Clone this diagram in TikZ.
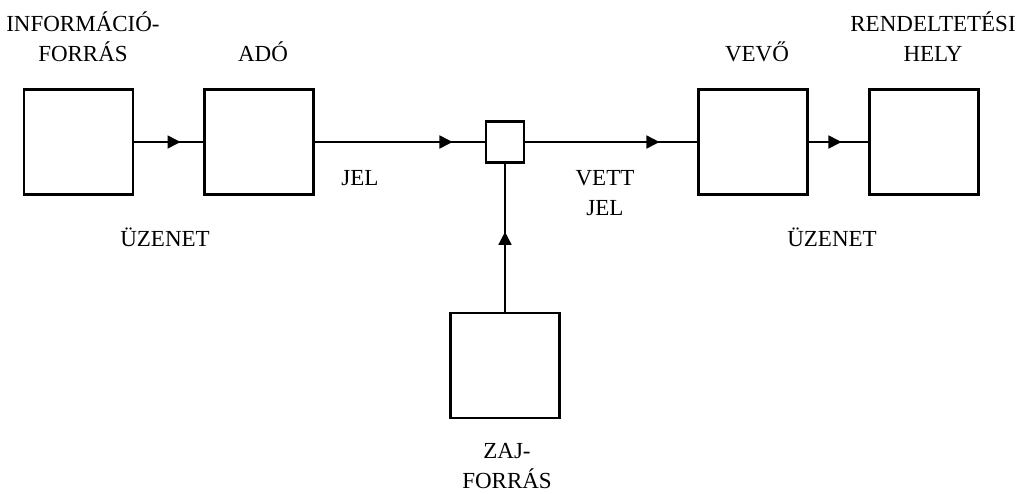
\documentclass[tikz,border=0pt]{standalone}
\usepackage{fontspec}
\setmainfont{Liberation Serif}
\usetikzlibrary{arrows.meta,decorations.markings}

\begin{document}
\begin{tikzpicture}[x=0.5pt,y=-0.5pt,
	box/.style={draw,line width=1.2pt,inner sep=0pt,minimum width=54.5pt,minimum height=52.5pt},
	smallbox/.style={draw,line width=1.2pt,inner sep=0pt,minimum width=19pt,minimum height=20.5pt},
	lbl/.style={align=center,inner sep=0pt,font=\fontsize{11.5}{15}\selectfont},
	tipat/.style={line width=.8pt,decoration={markings,
		mark=at position #1 with {\arrow{Triangle[length=6.5pt,width=6.5pt]}}},postaction={decorate}}]
\useasboundingbox (0,0) rectangle (1020,493);

% boxes
\node[box] (forras) at (78.5,142) {};
\node[box] (ado) at (259,142) {};
\node[smallbox] (csat) at (505,142) {};
\node[box] (vevo) at (753,142) {};
\node[box] (hely) at (924,142) {};
\node[box] (zaj) at (505,365.5) {};

% connectors
\draw[tipat=.67] (forras.east) -- (ado.west);
\draw[tipat=.81] (ado.east) -- (csat.west);
\draw[tipat=.78] (csat.east) -- (vevo.west);
\draw[tipat=.55] (vevo.east) -- (hely.west);
\draw[tipat=.54] (zaj.north) -- (csat.south);

% labels
\node[lbl] (tforras) at (83,37) {INFORMÁCIÓ-\\FORRÁS};
\node[lbl] (tado) at (263,52) {ADÓ};
\node[lbl] (tuzenet) at (165,237) {ÜZENET};
\node[lbl] (tjel) at (360,178) {JEL};
\node[lbl] (tvett) at (605,193) {VETT\\JEL};
\node[lbl] (tvevo) at (757,52) {VEVŐ};
\node[lbl] (thely) at (933,37) {RENDELTETÉSI\\HELY};
\node[lbl] (tuzenet2) at (832,237) {ÜZENET};
\node[lbl] (tzaj) at (507,466) {ZAJ-\\FORRÁS};
\end{tikzpicture}
\end{document}
